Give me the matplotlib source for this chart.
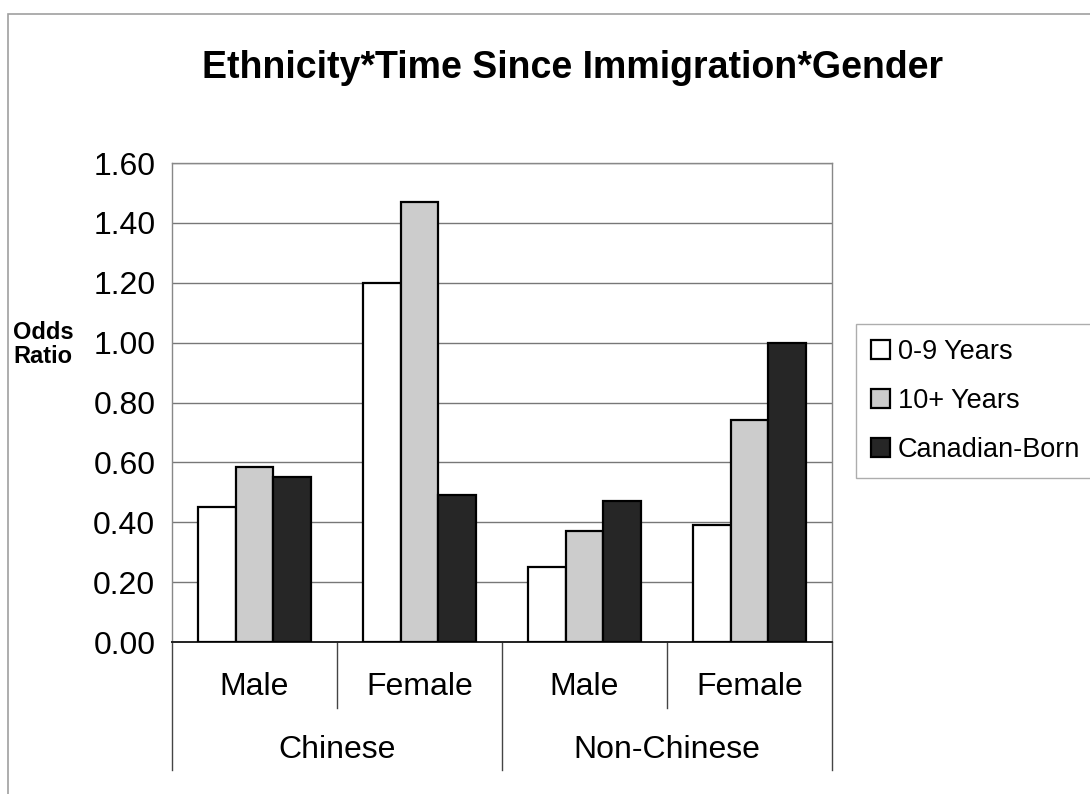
import numpy as np
import matplotlib.pyplot as plt
from matplotlib.patches import Rectangle

plt.rcParams['font.family'] = ['Liberation Sans', 'DejaVu Sans']

# odds ratios by ethnicity / gender group
genders = ['Male', 'Female', 'Male', 'Female']
ethnicities = ['Chinese', 'Non-Chinese']
series_names = ['0-9 Years', '10+ Years', 'Canadian-Born']
years_0_9 = [0.45, 1.20, 0.25, 0.39]
years_10_plus = [0.585, 1.47, 0.37, 0.74]
canadian_born = [0.55, 0.49, 0.47, 1.00]
y_ticks = [0.0, 0.2, 0.4, 0.6, 0.8, 1.0, 1.2, 1.4, 1.6]

fig = plt.figure(figsize=(10.9, 7.94), dpi=100)
fig.patch.set_facecolor('white')

# outer chart frame
fig.patches.append(Rectangle((0.007, -0.05), 1.1, 1.032, transform=fig.transFigure,
                             fill=False, edgecolor='#a0a0a0', linewidth=1.2))

ax = fig.add_axes([0.1578, 0.1914, 0.6055, 0.6033])

x = np.arange(len(genders))
w = 0.23
colors = ['white', '#cccccc', '#262626']
series = [years_0_9, years_10_plus, canadian_born]
for i, (vals, c, name) in enumerate(zip(series, colors, series_names)):
    ax.bar(x + (i - 1) * w, vals, width=w, color=c, edgecolor='black',
           linewidth=1.6, label=name, zorder=3)

ax.set_xlim(-0.5, 3.5)
ax.set_ylim(0, 1.6)
ax.set_yticks(y_ticks)
ax.set_yticklabels([f'{t:.2f}' for t in y_ticks], fontsize=23)
ax.yaxis.grid(True, color='#777777', linewidth=1.0, zorder=0)
ax.tick_params(axis='y', length=0, pad=12)
ax.tick_params(axis='x', length=0)
ax.set_xticks([])
for side in ['top', 'right', 'left']:
    ax.spines[side].set_color('#888888')
    ax.spines[side].set_linewidth(1.0)
ax.spines['bottom'].set_color('#222222')
ax.spines['bottom'].set_linewidth(1.4)

# two-level category axis
trans = ax.get_xaxis_transform()
for b in [-0.5, 1.5, 3.5]:
    ax.plot([b, b], [0, -0.267], transform=trans, color='#444444', lw=1.0, clip_on=False)
for b in [0.5, 2.5]:
    ax.plot([b, b], [0, -0.138], transform=trans, color='#444444', lw=1.0, clip_on=False)
for xi, g in zip(x, genders):
    ax.text(xi, -0.094, g, transform=trans, ha='center', va='center', fontsize=23)
for xi, e in zip([0.5, 2.5], ethnicities):
    ax.text(xi, -0.225, e, transform=trans, ha='center', va='center', fontsize=23)

fig.text(0.012, 0.566, 'Odds\nRatio', fontsize=17, fontweight='bold',
         ha='left', va='center', linespacing=1.05)

fig.text(0.525, 0.914, 'Ethnicity*Time Since Immigration*Gender', fontsize=27,
         fontweight='bold', ha='center', va='center')

leg = ax.legend(loc='center left', bbox_to_anchor=(1.036, 0.503), fontsize=19.5,
                frameon=True, fancybox=False, edgecolor='#999999',
                handlelength=0.7, handleheight=0.7, handletextpad=0.3,
                labelspacing=0.85, borderpad=0.55, borderaxespad=0)
leg.get_frame().set_linewidth(1.0)

fig.savefig('out.png', dpi=100)
